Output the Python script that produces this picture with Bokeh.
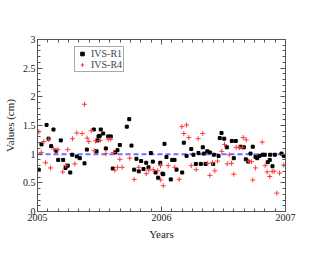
from bokeh.plotting import figure
from bokeh.models import (Range1d, FixedTicker, LinearAxis, NumeralTickFormatter,
                          Legend, LegendItem)
from bokeh.embed import file_html
from bokeh.resources import INLINE

# ---- data (decimal years, values in cm) ----
r1_t = [2005.010, 2005.032, 2005.073, 2005.089, 2005.110, 2005.129, 2005.151, 2005.167,
        2005.188, 2005.207, 2005.226, 2005.244, 2005.264, 2005.280, 2005.317, 2005.341,
        2005.379, 2005.398, 2005.454, 2005.476, 2005.484, 2005.492, 2005.502, 2005.510,
        2005.530, 2005.551, 2005.570, 2005.591, 2005.607, 2005.627, 2005.645, 2005.664,
        2005.720, 2005.740, 2005.758, 2005.780, 2005.798, 2005.817, 2005.836, 2005.855,
        2005.877, 2005.895, 2005.914, 2005.930, 2005.952, 2005.973, 2005.990, 2006.008,
        2006.014, 2006.024, 2006.040, 2006.075, 2006.086, 2006.105, 2006.121, 2006.167,
        2006.180, 2006.202, 2006.240, 2006.258, 2006.277, 2006.298, 2006.317, 2006.333,
        2006.341, 2006.355, 2006.369, 2006.390, 2006.417, 2006.422, 2006.460, 2006.470,
        2006.484, 2006.506, 2006.527, 2006.567, 2006.583, 2006.599, 2006.637, 2006.664,
        2006.680, 2006.699, 2006.718, 2006.736, 2006.758, 2006.772, 2006.790, 2006.815,
        2006.833, 2006.857, 2006.873, 2006.876, 2006.895, 2006.914, 2006.968, 2006.986]
r1_v = [0.73, 1.17, 1.51, 1.27, 1.14, 1.43, 1.06, 0.90,
        1.24, 0.90, 0.76, 0.80, 0.68, 0.99, 0.96, 0.93,
        0.84, 1.08, 1.43, 1.05, 1.24, 1.31, 1.32, 1.43,
        1.36, 1.10, 1.31, 1.31, 0.75, 1.03, 1.07, 1.16,
        1.48, 1.61, 1.15, 0.73, 0.92, 0.70, 0.88, 0.74,
        0.85, 0.77, 1.02, 0.87, 0.68, 0.59, 0.85, 0.66,
        0.65, 1.18, 0.95, 0.56, 0.90, 0.90, 0.73, 0.68,
        1.20, 0.97, 1.09, 0.99, 0.83, 1.02, 0.83, 1.12,
        1.01, 0.83, 1.05, 1.03, 0.83, 0.99, 0.97, 1.28,
        1.37, 1.27, 1.12, 1.23, 0.93, 1.23, 1.13, 1.12,
        0.91, 0.87, 1.01, 1.13, 0.95, 0.93, 0.97, 0.99,
        0.99, 0.86, 0.90, 0.99, 0.79, 0.99, 1.01, 0.97]

r4_t = [2005.010, 2005.030, 2005.051, 2005.065, 2005.091, 2005.105, 2005.131, 2005.164,
        2005.204, 2005.228, 2005.244, 2005.282, 2005.301, 2005.317, 2005.360, 2005.379,
        2005.401, 2005.414, 2005.433, 2005.457, 2005.468, 2005.506, 2005.551, 2005.570,
        2005.591, 2005.613, 2005.623, 2005.645, 2005.664, 2005.683, 2005.744, 2005.780,
        2005.817, 2005.877, 2005.898, 2005.933, 2005.970, 2005.994, 2006.014, 2005.992,
        2006.054, 2006.107, 2006.143, 2006.164, 2006.202, 2006.180, 2006.220, 2006.240,
        2006.280, 2006.296, 2006.333, 2006.373, 2006.390, 2006.411, 2006.430, 2006.452,
        2006.486, 2006.508, 2006.530, 2006.546, 2006.565, 2006.583, 2006.602, 2006.627,
        2006.651, 2006.659, 2006.683, 2006.704, 2006.726, 2006.736, 2006.758, 2006.812,
        2006.836, 2006.852, 2006.873, 2006.893, 2006.909, 2006.930, 2006.952, 2006.986]
r4_v = [1.39, 1.03, 1.22, 0.85, 1.26, 0.76, 1.09, 1.08,
        0.69, 0.80, 1.08, 1.27, 0.83, 1.37, 1.36, 1.87,
        1.28, 1.22, 1.41, 1.06, 1.23, 1.24, 1.01, 1.26,
        1.26, 1.03, 0.72, 0.77, 0.91, 0.77, 0.93, 0.56,
        0.77, 0.66, 0.72, 0.73, 0.71, 0.55, 0.45, 0.80,
        0.80, 0.77, 0.56, 1.48, 1.51, 1.36, 1.29, 0.80,
        0.73, 1.27, 1.36, 0.84, 0.63, 0.85, 0.71, 0.88,
        1.05, 1.17, 0.83, 0.99, 0.84, 0.65, 1.12, 1.11,
        1.12, 1.29, 1.25, 0.88, 0.87, 0.55, 0.76, 1.21,
        0.80, 0.69, 0.61, 0.70, 0.70, 0.32, 0.67, 0.81]

ref_t = [2005, 2007]
ref_v = [1.0, 1.0]

x_ticks = [2005, 2006, 2007]
y_ticks = [0, 0.5, 1, 1.5, 2, 2.5, 3]

FONT = "Liberation Serif"
AX = "#555555"

p = figure(frame_width=248, frame_height=172, output_backend="svg", toolbar_location=None,
           x_range=Range1d(2005, 2007), y_range=Range1d(0, 3),
           min_border_left=29, min_border_right=37, min_border_top=39, min_border_bottom=30,
           x_axis_label="Years", y_axis_label="Values (cm)")
p.xgrid.visible = False
p.ygrid.visible = False
p.outline_line_color = AX

x_minor = [2005 + i / 12 for i in range(25)]
y_minor = [i / 10 for i in range(31)]
xt = FixedTicker(ticks=x_ticks, minor_ticks=x_minor)
yt = FixedTicker(ticks=y_ticks, minor_ticks=y_minor)


def style(ax, labels=True):
    ax.axis_line_color = AX
    ax.major_tick_line_color = AX
    ax.minor_tick_line_color = AX
    ax.major_tick_in = 5
    ax.major_tick_out = 0
    ax.minor_tick_in = 3
    ax.minor_tick_out = 0
    ax.major_label_text_font = FONT
    ax.major_label_text_font_size = "10px"
    ax.major_label_text_color = "#222222"
    if not labels:
        ax.major_label_text_alpha = 0
    ax.major_label_standoff = 2
    ax.axis_label_text_font = FONT
    ax.axis_label_text_font_size = "11px"
    ax.axis_label_text_font_style = "normal"
    ax.axis_label_text_color = "#222222"
    ax.axis_label_standoff = 4


p.xaxis.ticker = xt
p.yaxis.ticker = yt
p.yaxis.formatter = NumeralTickFormatter(format="0.[0]")
style(p.xaxis[0])
style(p.yaxis[0])

top = LinearAxis(ticker=xt)
style(top, labels=False)
top.major_label_text_font_size = "1px"
p.add_layout(top, "above")
right = LinearAxis(ticker=yt)
style(right, labels=False)
right.major_label_text_font_size = "1px"
p.add_layout(right, "right")

p.line(ref_t, ref_v, line_color="#6f6fff", line_width=2, line_dash="5 3")
g1 = p.scatter(r1_t, r1_v, marker="square", size=3, fill_color="black", line_color="black")
g4 = p.scatter(r4_t, r4_v, marker="cross", size=5, line_color="#ff3a3a", line_width=1)

leg = Legend(items=[LegendItem(label="IVS-R1", renderers=[g1]),
                    LegendItem(label="IVS-R4", renderers=[g4])],
             location=(37, 139))
leg.label_text_font = FONT
leg.label_text_font_size = "10px"
leg.label_height = 9
leg.glyph_height = 9
leg.glyph_width = 12
leg.spacing = 0
leg.padding = 1
leg.margin = 0
leg.label_standoff = 3
leg.border_line_color = AX
p.add_layout(leg, "center")

open("out.html", "w").write(file_html(p, INLINE))
